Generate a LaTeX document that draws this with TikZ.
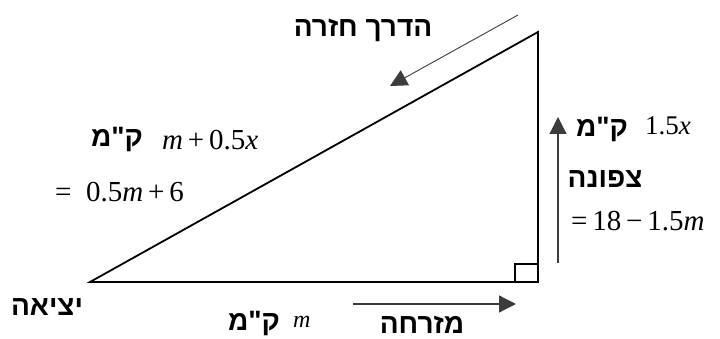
\documentclass[tikz,border=0pt]{standalone}
\usepackage{fontspec}
\setmainfont{Liberation Serif}
\newfontfamily\hebfont[Script=Hebrew]{Liberation Sans}
\TeXXeTstate=1
\usetikzlibrary{arrows.meta}
\newcommand{\heb}[1]{{\hebfont\bfseries\beginR #1\endR}}
\newcommand{\vm}{\textit{m}}
\newcommand{\vx}{\textit{x}}
\definecolor{waygray}{HTML}{3C3C3C}

\tikzset{
  side/.style={line width=1.8pt, line join=miter},
  way/.style={draw=waygray, line width=1.2pt, -{Triangle[length=17pt,width=17pt]}},
  heblabel/.style={font=\fontsize{28}{32}\selectfont, inner sep=0pt, anchor=base},
  mathlabel/.style={font=\fontsize{29}{33}\selectfont, inner sep=0pt, anchor=base west}
}

\begin{document}
\begin{tikzpicture}[x=1pt, y=-1pt]
  \useasboundingbox (0,0) rectangle (720,339);

  % triangle
  \coordinate (start) at (90,282);
  \coordinate (corner) at (538,282);
  \coordinate (top) at (538,32);
  \draw[side] (start) -- (corner) -- (top) -- cycle;
  \draw[line width=1.2pt] (515,282) |- (538,264);

  % direction arrows
  \coordinate (backfrom) at (518,15);
  \coordinate (backto) at (390,86);
  \coordinate (northfrom) at (558,263);
  \coordinate (northto) at (558,117);
  \coordinate (eastfrom) at (353,304);
  \coordinate (eastto) at (516,304);
  \draw[way, line width=0.9pt] (backfrom) -- (backto);
  \draw[way] (northfrom) -- (northto);
  \draw[way] (eastfrom) -- (eastto);

  % labels
  \node[heblabel] (back) at (363,37) {\heb{הדרך חזרה}};
  \node[heblabel] (kmhyp) at (117,147) {\heb{ק"מ}};
  \node[mathlabel] (hyp) at (162,150) {\vm\,+\,0.5\vx};
  \node[mathlabel, anchor=base east] (hypeq) at (184,202) {=\ \ 0.5\vm\,+\,6};
  \node[heblabel] (kmnorth) at (602,137) {\heb{ק"מ}};
  \node[mathlabel, font=\fontsize{27}{31}\selectfont] (north) at (645,135) {1.5\vx};
  \node[heblabel] (northword) at (605,188) {\heb{צפונה}};
  \node[mathlabel] (northeq) at (571,230) {=\,18\,−\,1.5\vm};
  \node[heblabel] (exit) at (47,315) {\heb{יציאה}};
  \node[heblabel] (kmeast) at (254,330) {\heb{ק"מ}};
  \node[mathlabel, font=\fontsize{24}{28}\selectfont] (east) at (293,327) {\vm};
  \node[heblabel] (eastword) at (422,333) {\heb{מזרחה}};
\end{tikzpicture}
\end{document}
